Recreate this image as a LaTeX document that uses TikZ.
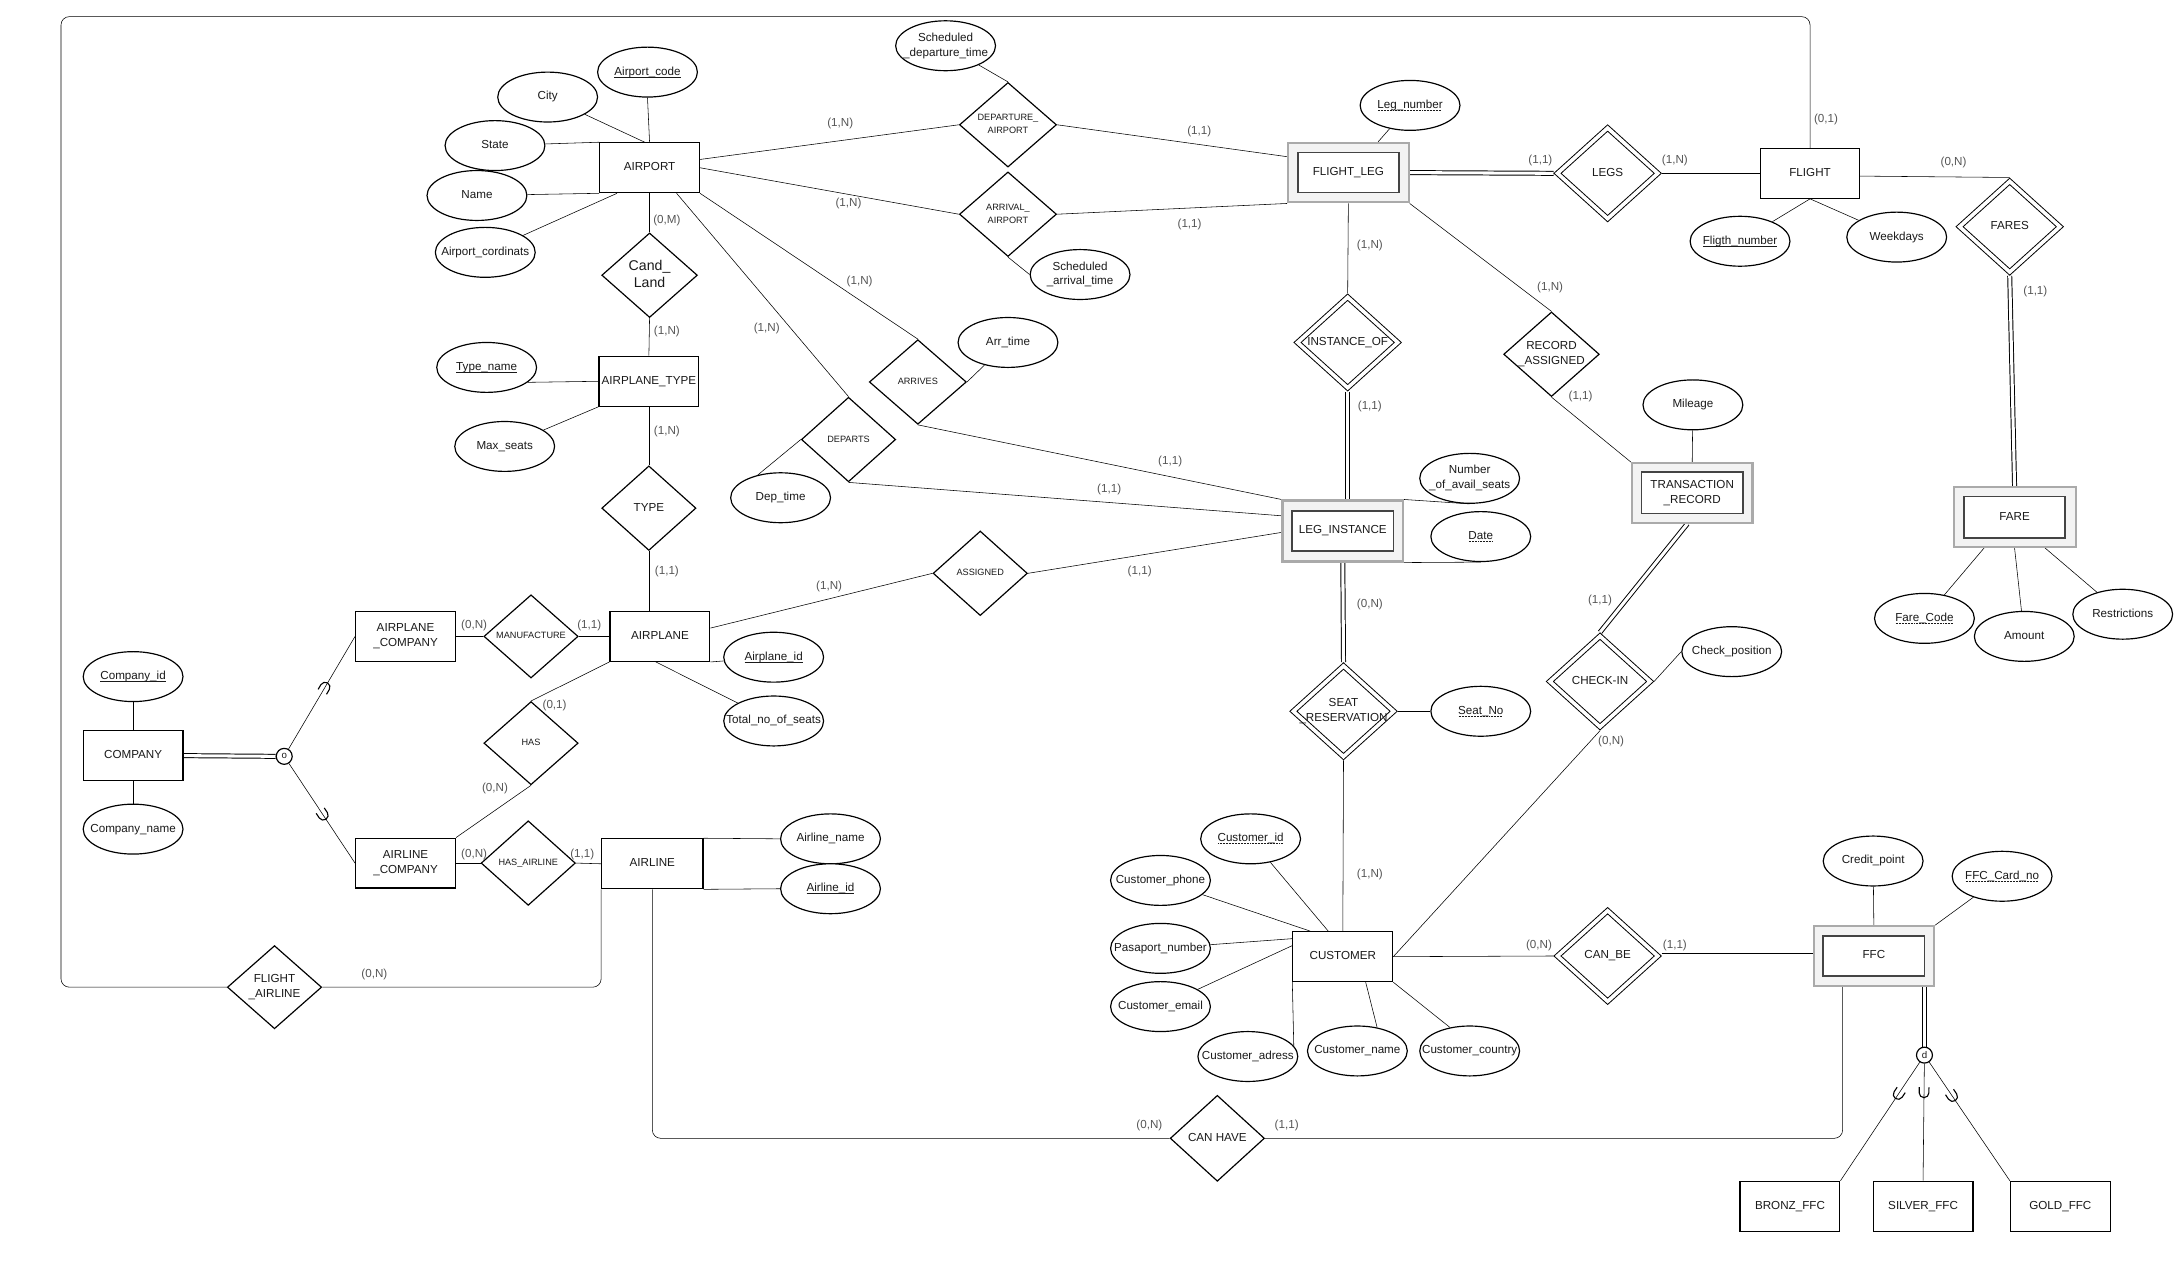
\documentclass[tikz,border=0pt]{standalone}
\usepackage{fontspec}
\setmainfont{Liberation Sans}
\usetikzlibrary{shapes.geometric,decorations.markings}
\definecolor{cardc}{HTML}{555555}
\definecolor{wkline}{HTML}{AAAAAA}
\definecolor{wkfill}{HTML}{F3F3F3}
\definecolor{wkdark}{HTML}{444444}
\definecolor{txt}{HTML}{1A1A1A}
\newsavebox\ulbox
\newcommand\sul[1]{\sbox\ulbox{#1}\leavevmode\rlap{\raisebox{-1.7pt}{\rule{\wd\ulbox}{0.5pt}}}\usebox\ulbox}
\newcommand\dul[1]{\sbox\ulbox{#1}\leavevmode\rlap{\raisebox{-1.7pt}{\hbox to \wd\ulbox{\leaders\hbox to 1.1pt{\hss\rule{0.55pt}{0.5pt}\hss}\hfill}}}\usebox\ulbox}
\newcommand\zt[1]{\makebox[0pt]{\begin{tabular}{@{}c@{}}#1\end{tabular}}}
\newcommand\mainf{\fontsize{8.4}{10.6}\selectfont}
\newcommand\smallf{\fontsize{6.6}{9.2}\selectfont}
\newcommand\bigf{\fontsize{10.2}{12.4}\selectfont}
\pgfdeclarelayer{bg}
\pgfsetlayers{bg,main}
\begin{document}
\begin{tikzpicture}[x=1pt,y=-1pt, line width=0.85pt, font=\mainf, text=txt,
 ent/.style={draw, rectangle, fill=white, minimum width=72pt, minimum height=36pt, inner sep=0pt},
 wkout/.style={draw=wkline, line width=1.5pt, fill=wkfill, rectangle, minimum width=87pt, minimum height=43pt, inner sep=0pt},
 wkin/.style={draw=wkdark, line width=1.1pt, fill=white, rectangle, minimum width=73pt, minimum height=29pt, inner sep=0pt},
 rel/.style={draw, diamond, fill=white, minimum width=68pt, minimum height=61pt, inner sep=0pt},
 wrel/.style={draw, diamond, fill=white, double=white, double distance=2.6pt, line width=0.7pt, minimum width=74pt, minimum height=67pt, inner sep=0pt, outer sep=2pt},
 attr/.style={draw, ellipse, fill=white, minimum width=72pt, minimum height=36pt, inner sep=0pt},
 card/.style={text=cardc, inner sep=0pt},
 dbl/.style={double, double distance=2.2pt, line width=0.7pt},
 spc/.style={draw, circle, fill=white, minimum size=11.5pt, inner sep=0pt, font=\fontsize{7}{8}\selectfont},
 subarc/.style={postaction={decorate, decoration={markings, mark=at position #1 with {\draw[line width=0.8pt] (-4pt,3.5pt) -- (0pt,3.5pt) arc[start angle=90, end angle=-90, radius=3.5pt] -- (-4pt,-3.5pt);}}}}
]
\useasboundingbox (0,0) rectangle (1568,921);

% ---------- entities ----------
\node[ent] (airport) at (468.5,121) {\zt{AIRPORT}};
\node[ent] (aptype) at (468,275) {\zt{AIRPLANE\_TYPE}};
\node[ent] (airplane) at (476,459) {\zt{AIRPLANE}};
\node[ent] (apcomp) at (292.5,459) {\zt{AIRPLANE\\\_COMPANY}};
\node[ent] (company) at (96,545) {\zt{COMPANY}};
\node[ent] (alcomp) at (292.5,622.5) {\zt{AIRLINE\\\_COMPANY}};
\node[ent, minimum width=73pt] (airline) at (470.5,623) {\zt{AIRLINE}};
\node[ent, minimum width=71pt] (flight) at (1305.5,125) {\zt{FLIGHT}};
\node[ent] (cust) at (968.5,690) {\zt{CUSTOMER}};
\node[ent] (bronz) at (1291,870) {\zt{BRONZ\_FFC}};
\node[ent] (silver) at (1387,870) {\zt{SILVER\_FFC}};
\node[ent] (gold) at (1486,870) {\zt{GOLD\_FFC}};

% weak entities
\node[wkout] (fl) at (972.5,124.5) {};
\node[wkin] (fli) at (fl) {\zt{FLIGHT\_LEG}};
\node[wkout, minimum height=44pt] (li) at (968.5,383) {};
\node[wkin] (lii) at (li) {\zt{LEG\_INSTANCE}};
\node[wkout] (tr) at (1220.5,355.5) {};
\node[wkin, minimum height=30pt] (tri) at (tr) {\zt{TRANSACTION\\\_RECORD}};
\node[wkout, minimum width=88pt] (fare) at (1453,373) {};
\node[wkin, minimum height=30pt] (farei) at (fare) {\zt{FARE}};
\node[wkout] (ffc) at (1351.5,689.5) {};
\node[wkin] (ffci) at (ffc) {\zt{FFC}};

% ---------- relationships ----------
\node[rel, minimum width=70pt, font=\smallf] (deparr) at (727,90) {\zt{DEPARTURE\_\\AIRPORT}};
\node[rel, minimum width=70pt, font=\smallf] (arrarr) at (727,154.5) {\zt{ARRIVAL\_\\AIRPORT}};
\node[rel, minimum width=69pt, font=\bigf] (candland) at (468.5,198.5) {\zt{Cand\_\\Land}};
\node[rel] (type) at (468,366.5) {\zt{TYPE}};
\node[rel, minimum width=70pt, font=\smallf] (arrives) at (662,275.5) {\zt{ARRIVES}};
\node[rel, font=\smallf] (departs) at (612,317) {\zt{DEPARTS}};
\node[rel, font=\smallf] (assigned) at (707,413.5) {\zt{ASSIGNED}};
\node[rel, minimum height=60pt, font=\smallf] (manuf) at (383,459) {\zt{MANUFACTURE}};
\node[rel, minimum height=60pt, font=\smallf] (has) at (383,536) {\zt{HAS}};
\node[rel, font=\smallf] (hasal) at (381,622.5) {\zt{HAS\_AIRLINE}};
\node[rel, minimum height=60pt] (flal) at (198,712) {\zt{FLIGHT\\\_AIRLINE}};
\node[rel, minimum width=69pt] (recas) at (1119,255.5) {\zt{RECORD\\\_ASSIGNED}};
\node[rel, minimum height=62pt] (canhave) at (878,821) {\zt{CAN HAVE}};
\node[wrel] (legs) at (1159.5,125) {\zt{LEGS}};
\node[wrel] (instof) at (972,247) {\zt{INSTANCE\_OF}};
\node[wrel] (fares) at (1449.5,163.5) {\zt{FARES}};
\node[wrel] (seatres) at (969,513) {\zt{SEAT\\\_RESERVATION}};
\node[wrel] (checkin) at (1154,491.5) {\zt{CHECK-IN}};
\node[wrel] (canbe) at (1159.5,689.5) {\zt{CAN\_BE}};

\node[spc] (ocirc) at (205,545.5) {o};
\node[spc] (dcirc) at (1388,761) {d};

% ---------- attributes ----------
\node[attr] (apcode) at (467,52) {\zt{\sul{Airport\_code}}};
\node[attr] (city) at (395,70) {\zt{City}};
\node[attr] (state) at (357,105) {\zt{State}};
\node[attr] (apname) at (344,141) {\zt{Name}};
\node[attr] (apcoord) at (350,182) {\zt{Airport\_cordinats}};
\node[attr] (typename) at (351,265) {\zt{\sul{Type\_name}}};
\node[attr] (maxseats) at (364,322) {\zt{Max\_seats}};
\node[attr] (sdt) at (682,33) {\zt{Scheduled\\\_departure\_time}};
\node[attr] (sat) at (779,198) {\zt{Scheduled\\\_arrival\_time}};
\node[attr] (arrtime) at (727,247) {\zt{Arr\_time}};
\node[attr] (deptime) at (563,359) {\zt{Dep\_time}};
\node[attr] (legnum) at (1017,76) {\zt{\dul{Leg\_number}}};
\node[attr] (flnum) at (1255,174) {\zt{\sul{Fligth\_number}}};
\node[attr] (weekdays) at (1368,171) {\zt{Weekdays}};
\node[attr] (mileage) at (1221,292) {\zt{Mileage}};
\node[attr] (numavail) at (1060,345) {\zt{Number\\\_of\_avail\_seats}};
\node[attr] (date) at (1068,387) {\zt{\dul{Date}}};
\node[attr] (airplaneid) at (558,474) {\zt{\sul{Airplane\_id}}};
\node[attr] (totseats) at (558,520) {\zt{Total\_no\_of\_seats}};
\node[attr] (compid) at (96,488) {\zt{\sul{Company\_id}}};
\node[attr] (compname) at (96,598) {\zt{Company\_name}};
\node[attr] (alname) at (599,605) {\zt{Airline\_name}};
\node[attr] (alid) at (599,641) {\zt{\sul{Airline\_id}}};
\node[attr] (seatno) at (1068,513) {\zt{\dul{Seat\_No}}};
\node[attr] (checkpos) at (1249,470) {\zt{Check\_position}};
\node[attr] (farecode) at (1388,446) {\zt{\dul{Fare\_Code}}};
\node[attr] (amount) at (1460,459) {\zt{Amount}};
\node[attr] (restr) at (1531,443) {\zt{Restrictions}};
\node[attr] (custid) at (902,605) {\zt{\dul{Customer\_id}}};
\node[attr] (custphone) at (837,635) {\zt{Customer\_phone}};
\node[attr] (passnum) at (837,684) {\zt{Pasaport\_number}};
\node[attr] (custemail) at (837,726) {\zt{Customer\_email}};
\node[attr] (custaddr) at (900,762) {\zt{Customer\_adress}};
\node[attr] (custname) at (979,758) {\zt{Customer\_name}};
\node[attr] (custcountry) at (1060,758) {\zt{Customer\_country}};
\node[attr] (creditpt) at (1351,621) {\zt{Credit\_point}};
\node[attr] (ffccard) at (1444,632) {\zt{\dul{FFC\_Card\_no}}};

% ---------- cardinalities ----------
\node[card] (k1) at (606,89) {(1,N)};
\node[card] (k2) at (865,95) {(1,1)};
\node[card] (k3) at (612,147) {(1,N)};
\node[card] (k4) at (858,162) {(1,1)};
\node[card] (k5) at (481,159) {(0,M)};
\node[card] (k6) at (481,239) {(1,N)};
\node[card] (k7) at (620,203) {(1,N)};
\node[card] (k8) at (553,237) {(1,N)};
\node[card] (k9) at (481,311) {(1,N)};
\node[card] (k10) at (844,333) {(1,1)};
\node[card] (k11) at (800,353) {(1,1)};
\node[card] (k12) at (481,412) {(1,1)};
\node[card] (k13) at (598,423) {(1,N)};
\node[card] (k14) at (822,412) {(1,1)};
\node[card] (k15) at (342,451) {(0,N)};
\node[card] (k16) at (425,451) {(1,1)};
\node[card] (k17) at (400,509) {(0,1)};
\node[card] (k18) at (357,569) {(0,N)};
\node[card] (k19) at (342,616) {(0,N)};
\node[card] (k20) at (420,616) {(1,1)};
\node[card] (k21) at (270,703) {(0,N)};
\node[card] (k22) at (1317,86) {(0,1)};
\node[card] (k23) at (1111,116) {(1,1)};
\node[card] (k24) at (1208,116) {(1,N)};
\node[card] (k25) at (1409,117) {(0,N)};
\node[card] (k26) at (1468,210) {(1,1)};
\node[card] (k27) at (988,177) {(1,N)};
\node[card] (k28) at (988,293) {(1,1)};
\node[card] (k29) at (1118,207) {(1,N)};
\node[card] (k30) at (1140,286) {(1,1)};
\node[card] (k31) at (1154,433) {(1,1)};
\node[card] (k32) at (988,436) {(0,N)};
\node[card] (k33) at (1162,535) {(0,N)};
\node[card] (k34) at (988,631) {(1,N)};
\node[card] (k35) at (1110,682) {(0,N)};
\node[card] (k36) at (1208,682) {(1,1)};
\node[card] (k37) at (829,812) {(0,N)};
\node[card] (k38) at (928,812) {(1,1)};

% ---------- connectors ----------
\begin{pgfonlayer}{bg}
\draw ([yshift=6pt]airport.east) -- (deparr.west);
\draw (deparr.east) -- ([yshift=11.5pt]fl.west);
\draw (airport.east) -- (arrarr.west);
\draw (arrarr.east) -- (fl.south west);
\draw (deparr.north) -- (sdt);
\draw (arrarr.south) -- (sat.west);
\draw (airport.south east) -- (arrives.north);
\draw (arrives.south) -- (li.north west);
\draw (arrives.east) -- (arrtime);
\draw ([xshift=19.5pt]airport.south) -- (departs.north);
\draw (departs.south) -- ([yshift=11pt]li.west);
\draw (departs.west) -- (deptime.135);
\draw ([yshift=6pt]airplane.east) -- (assigned.west);
\draw (assigned.east) -- ([yshift=-1pt]li.west);
\draw (apcode.south) -- (airport.north);
\draw (city) -- ([xshift=-3.5pt]airport.north);
\draw (state) -- (airport.north west);
\draw (apname) -- (airport.south west);
\draw (apcoord) -- ([xshift=-23.5pt]airport.south);
\draw (airport.south) -- (candland.north);
\draw (candland.south) -- (aptype.north);
\draw (typename.-20) -- (aptype.west);
\draw (maxseats) -- (aptype.south west);
\draw (aptype.south) -- (type.north);
\draw (type.south) -- (type.south |- airplane.north);
\draw (airplane.west) -- (manuf.east);
\draw (manuf.west) -- (apcomp.east);
\draw (airplane.south west) -- (has.north);
\draw (has.south) -- (alcomp.north east);
\draw (alcomp.east) -- (hasal.west);
\draw (hasal.east) -- (airline.west);
\draw (airplane.south east) -- (airplaneid);
\draw ([xshift=-3pt]airplane.south) -- (totseats);
\draw (airline.north east) -- (alname.west);
\draw (airline.south east) -- (alid.west);
\draw (compid) -- (company);
\draw (company) -- (compname);
\draw[dbl] (company.east) -- (ocirc.west);
\draw[subarc=0.55] (ocirc) -- (apcomp.west);
\draw[subarc=0.52] (ocirc) -- (alcomp.west);
\coordinate (ftr) at (1305.5,12);
\coordinate (ftl) at (44,12);
\coordinate (fbl) at (44,712);
\draw[rounded corners=6pt] (flight.north) -- (ftr) -- (ftl) -- (fbl) -- (flal.west);
\draw[rounded corners=6pt] (flal.east) -| (airline.south west);
\draw[rounded corners=6pt] (canhave.west) -| (airline.south);
\draw[rounded corners=6pt] ([xshift=-22.5pt]ffc.south) |- (canhave.east);
\draw[dbl] (fl.east) -- (legs.west);
\draw (legs.east) -- (flight.west);
\draw ([yshift=-2pt]flight.east) -- (fares.north);
\draw[dbl] (fares.south) -- (fare.north);
\draw (flight.south) -- (flnum);
\draw (flight.south) -- (weekdays);
\draw ([xshift=-22pt]fare.south) -- (farecode);
\draw (fare.south) -- (amount);
\draw ([xshift=22pt]fare.south) -- (restr);
\draw (legnum) -- ([xshift=21.5pt]fl.north);
\draw (fl.south) -- (instof.north);
\draw[dbl] (instof.south) -- (instof.south |- li.north);
\draw (fl.south east) -- (recas.north);
\draw (recas.south) -- (tr.north west);
\draw (mileage) -- (tr.north);
\draw[dbl] ([xshift=-3.5pt]tr.south) -- (checkin.north);
\draw (checkin.east) -- (checkpos.west);
\draw (cust.east) -- (checkin.south);
\draw[dbl] (li.south) -- (seatres.north);
\draw (seatres.south) -- (cust.north);
\draw (seatres.east) -- (seatno.west);
\draw (li.north east) -- (numavail.south);
\draw (li.south east) -- (date.south);
\draw (custid) -- ([xshift=-10.5pt]cust.north);
\draw (custphone) -- ([xshift=-23.5pt]cust.north);
\draw (passnum) -- ([yshift=13pt]cust.west);
\draw (custemail) -- ([yshift=8pt]cust.west);
\draw (custaddr.13) -- (cust.south west);
\draw (custname.50) -- ([xshift=16.5pt]cust.south);
\draw (custcountry.130) -- (cust.south east);
\draw (cust.east) -- (canbe.west);
\draw[dbl] (canbe.east) -- (ffc.west);
\draw (creditpt) -- (ffc.north);
\draw (ffccard) -- (ffc.north east);
\draw[dbl] (dcirc.north |- ffc.south) -- (dcirc.north);
\draw[subarc=28pt] (dcirc) -- (bronz.north east);
\draw[subarc=21pt] (dcirc) -- (silver.north);
\draw[subarc=30pt] (dcirc) -- (gold.north west);
\end{pgfonlayer}
\end{tikzpicture}
\end{document}
